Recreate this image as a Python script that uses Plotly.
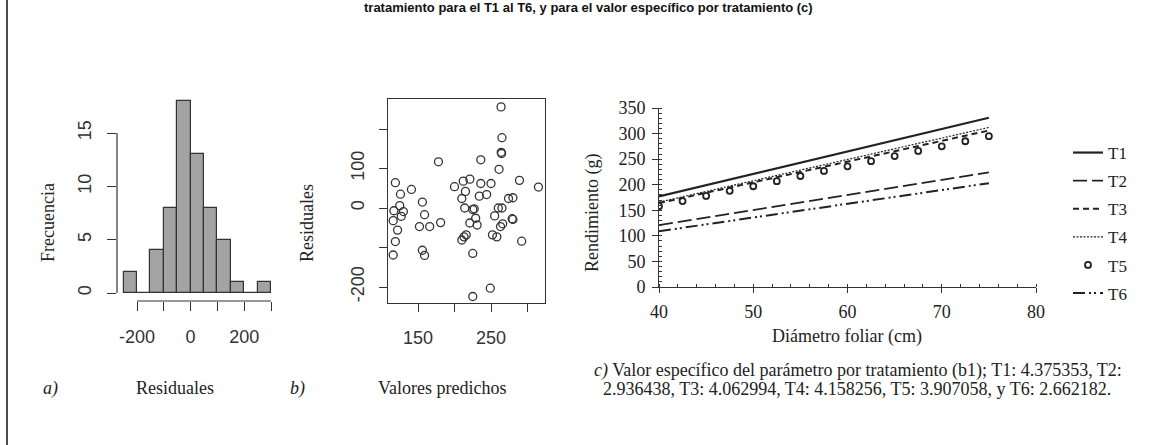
import plotly.graph_objects as go

W, H = 1169, 445

# ---------------- data ----------------
# a) histogram of residuals
hist_edges = [-250, -200, -150, -100, -50, 0, 50, 100, 150, 200, 250, 300]
hist_counts = [2, 0, 4, 8, 18, 13, 8, 5, 1, 0, 1]

# b) residuals vs predicted values
pred = [263.8, 265, 264, 264.5, 261, 236, 178, 119, 141, 126, 125, 117, 130, 116, 127,
        122, 119, 116, 156, 159, 152, 166, 181, 156, 159, 200, 212, 221, 215, 210,
        214, 225, 227, 229, 221, 231, 216, 213, 210, 225, 225, 249, 236, 250, 234,
        244, 255, 252, 258, 263, 266, 260, 265, 274, 280, 279, 280, 289, 292, 315]
resid = [256, 178, 141, 138, 98, 122, 117, 64, 47, 35, 6, -7, -9, -32, -21,
         -56, -85, -119, 15, -17, -47, -47, -37, -107, -120, 54, 68, 73, 42, 24,
         0, -4, -2, -26, -38, -43, -68, -73, -81, -115, -224, -203, 62, 62, 30,
         34, -20, -68, -73, -47, -40, 0, 0, 24, 26, -27, -29, 70, -84, 53]

# c) yield vs leaf diameter per treatment
diam_ends = [40, 75]
t_lines = {
    "T1": [177, 331],
    "T2": [121, 224],
    "T3": [164, 306],
    "T4": [166, 312],
    "T6": [109, 203],
}
t5_x = [40, 42.5, 45, 47.5, 50, 52.5, 55, 57.5, 60, 62.5, 65, 67.5, 70, 72.5, 75]
t5_y = [158, 168, 178, 188, 197, 207, 217, 227, 236, 246, 256, 266, 275, 285, 295]
treatments = ["T1", "T2", "T3", "T4", "T5", "T6"]

caption_1 = "<i>c)</i> Valor específico del parámetro por tratamiento (b1); T1: 4.375353, T2:"
caption_2 = "2.936438, T3: 4.062994, T4: 4.158256, T5: 3.907058, y T6: 2.662182."
top_title = "tratamiento para el T1 al T6, y para el valor específico por tratamiento (c)"

# ---------------- helpers ----------------
def px_x(p):
    return p / W

def px_y(p):
    return 1 - p / H

SERIF = "Liberation Serif"
SANS = "Liberation Sans"
INK = "#222222"
AX = "#333333"

fig = go.Figure()

# ---- panel a ----
centers = [(hist_edges[i] + hist_edges[i + 1]) / 2 for i in range(len(hist_counts))]
fig.add_trace(go.Bar(
    x=centers, y=hist_counts, width=50,
    marker=dict(color="#a3a3a3", line=dict(color=AX, width=1.2)),
    xaxis="x", yaxis="y", showlegend=False,
))

# ---- panel b ----
fig.add_trace(go.Scatter(
    x=pred, y=resid, mode="markers",
    marker=dict(symbol="circle-open", size=8, color=AX, line=dict(width=1.3)),
    xaxis="x2", yaxis="y2", showlegend=False,
))

# ---- panel c ----
styles = {
    "T1": dict(dash="solid", width=2.2),
    "T2": dict(dash="14px,5px", width=1.8),
    "T3": dict(dash="6px,4px", width=2.0),
    "T4": dict(dash="2px,1.5px", width=1.2),
    "T6": dict(dash="12px,4px,2px,3px,2px,4px", width=2.0),
}
for name in treatments:
    if name == "T5":
        fig.add_trace(go.Scatter(
            x=t5_x, y=t5_y, mode="markers", name="T5",
            marker=dict(symbol="circle-open", size=6, color=INK, line=dict(width=1.8)),
            xaxis="x3", yaxis="y3", legendgroup="T5",
        ))
    else:
        fig.add_trace(go.Scatter(
            x=diam_ends, y=t_lines[name], mode="lines", name=name,
            line=dict(color=INK, **styles[name]),
            xaxis="x3", yaxis="y3", legendgroup=name,
        ))

# ---------------- axes ----------------
# panel a
xa0, xa1 = 117, 280
ya_top, ya_bot = 95, 301
def a_xval(p):
    return -200 + (p - 137) / 0.268
def a_yval(p):
    return (293 - p) / 10.667

axis_font_sans = dict(family=SANS, size=18, color=AX)

fig.update_layout(
    xaxis=dict(domain=[px_x(xa0), px_x(xa1)], range=[a_xval(xa0), a_xval(xa1)],
               showgrid=False, zeroline=False, showline=False,
               tickvals=[-200, -100, 0, 100, 200, 300],
               ticktext=["-200", "", "0", "", "200", ""],
               ticks="outside", ticklen=9, tickcolor=AX, tickwidth=1.2,
               tickfont=axis_font_sans, ticklabelstandoff=10, anchor="y"),
    yaxis=dict(domain=[px_y(ya_bot), px_y(ya_top)], range=[a_yval(ya_bot), a_yval(ya_top)],
               showgrid=False, zeroline=False, showline=False,
               tickvals=[0, 5, 10, 15], ticks="outside", ticklen=9,
               tickcolor=AX, tickwidth=1.2, tickangle=-90,
               tickfont=axis_font_sans, ticklabelstandoff=9, anchor="x"),
)

# panel b
xb0, xb1 = 388, 545
yb_top, yb_bot = 99, 303
def b_xval(p):
    return 150 + (p - 418) / 0.73
def b_yval(p):
    return (208 - p) / 0.395

fig.update_layout(
    xaxis2=dict(domain=[px_x(xb0), px_x(xb1)], range=[b_xval(xb0), b_xval(xb1)],
                showgrid=False, zeroline=False, showline=True, mirror=True,
                linecolor=AX, linewidth=1.2,
                tickvals=[150, 200, 250, 300], ticktext=["150", "", "250", ""],
                ticks="outside", ticklen=8, tickcolor=AX, tickwidth=1.2,
                tickfont=axis_font_sans, ticklabelstandoff=10, anchor="y2"),
    yaxis2=dict(domain=[px_y(yb_bot), px_y(yb_top)], range=[b_yval(yb_bot), b_yval(yb_top)],
                showgrid=False, zeroline=False, showline=True, mirror=True,
                linecolor=AX, linewidth=1.2,
                tickvals=[-200, -100, 0, 100, 200], ticktext=["-200", "", "0", "100", ""],
                ticks="outside", ticklen=8, tickcolor=AX, tickwidth=1.2,
                tickangle=-90, tickfont=axis_font_sans, ticklabelstandoff=8, anchor="x2"),
)

# panel c
xc0, xc1 = 659, 1036
yc_top, yc_bot = 108, 287
serif_tick = dict(family=SERIF, size=18, color=INK)
fig.update_layout(
    xaxis3=dict(domain=[px_x(xc0), px_x(xc1)], range=[40, 80],
                showgrid=False, zeroline=False, showline=True,
                linecolor=AX, linewidth=1,
                tickvals=[40, 50, 60, 70, 80], ticks="outside", ticklen=5,
                tickcolor=AX, tickfont=serif_tick, ticklabelstandoff=3,
                minor=dict(dtick=2, ticks="inside", ticklen=3, tickcolor=AX),
                anchor="y3"),
    yaxis3=dict(domain=[px_y(yc_bot), px_y(yc_top)], range=[0, 350],
                showgrid=False, zeroline=False, showline=True,
                linecolor=AX, linewidth=1,
                tickvals=[0, 50, 100, 150, 200, 250, 300, 350], ticks="outside", ticklen=6,
                tickcolor=AX, tickfont=serif_tick, ticklabelstandoff=3,
                minor=dict(dtick=10, ticks="inside", ticklen=3, tickcolor=AX),
                anchor="x3"),
)

# ---------------- shapes ----------------
shapes = [
    # detached R-style axis lines for the histogram
    dict(type="line", xref="x", yref="y domain", x0=-200, x1=300, y0=0, y1=0,
         line=dict(color=AX, width=1.2)),
    dict(type="line", xref="x domain", yref="y", x0=0, x1=0, y0=0, y1=15,
         line=dict(color=AX, width=1.2)),
    # page border on the left
    dict(type="line", xref="paper", yref="paper", x0=px_x(7), x1=px_x(7), y0=0, y1=1,
         line=dict(color="#111111", width=1.5)),
]

# ---------------- annotations ----------------
def ann(text, x, y, size=18, family=SERIF, angle=0, italic=False, color=INK):
    return dict(text=(f"<i>{text}</i>" if italic else text), x=px_x(x), y=px_y(y),
                xref="paper", yref="paper", showarrow=False, textangle=angle,
                xanchor="center", yanchor="middle",
                font=dict(family=family, size=size, color=color))

annotations = [
    ann(f"<b>{top_title}</b>", 588, 8, size=13, family=SANS, color="#111111"),
    ann("Frecuencia", 48, 223, angle=-90),
    ann("Residuales", 175, 388),
    ann("a)", 50, 388, italic=True),
    ann("Residuales", 307, 223, angle=-90),
    ann("Valores predichos", 442, 388),
    ann("b)", 297, 388, italic=True),
    ann("Rendimiento (g)", 592, 213, angle=-90),
    ann("Diámetro foliar (cm)", 847, 336),
    ann(caption_1, 858, 370),
    ann(caption_2, 857, 389),
]

fig.update_layout(
    width=W, height=H, autosize=False,
    margin=dict(l=0, r=0, t=0, b=0, pad=0, autoexpand=False),
    paper_bgcolor="white", plot_bgcolor="white",
    shapes=shapes, annotations=annotations,
    bargap=0,
    legend=dict(x=px_x(1068), y=px_y(135), xanchor="left", yanchor="top",
                font=dict(family=SERIF, size=17, color=INK),
                bgcolor="rgba(0,0,0,0)", tracegroupgap=3, itemwidth=30),
)

fig.write_html(
    "out.html",
    config={"displayModeBar": False},
    post_script="document.body.style.margin='0';document.body.style.padding='0';",
)
